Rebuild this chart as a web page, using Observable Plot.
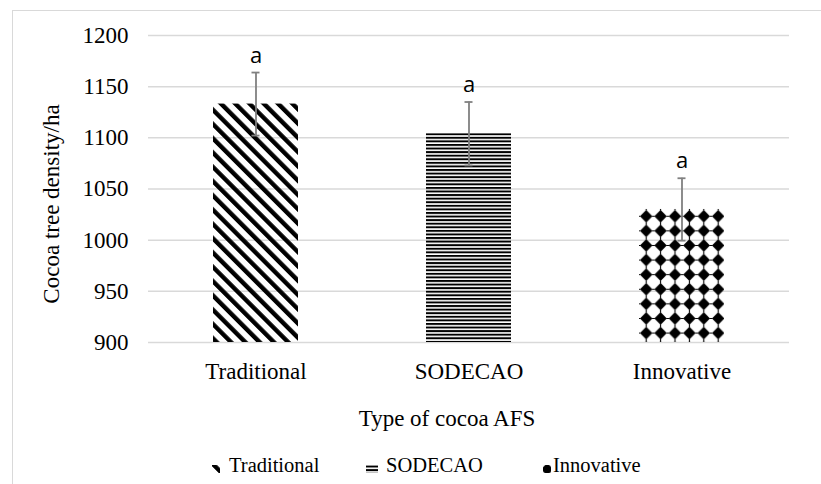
<!DOCTYPE html>
<html><head><meta charset="utf-8">
<script src="https://cdn.jsdelivr.net/npm/d3@7"></script>
<script src="https://cdn.jsdelivr.net/npm/@observablehq/plot@0.6"></script>
<style>
body{margin:0;background:#fff;width:821px;height:484px;overflow:hidden;position:relative;font-family:"Liberation Serif",serif;}
#frame{position:absolute;left:12px;top:10px;width:900px;height:600px;border-left:1.5px solid #d9d9d9;border-top:1.5px solid #d9d9d9;}
#chart{position:absolute;left:0;top:0;}
#legend{position:absolute;left:0;top:440px;}
svg text{font-family:"Liberation Serif",serif;}
</style></head><body>
<div id="frame"></div>
<svg width="0" height="0" style="position:absolute;left:0;top:0"><defs id="defs"></defs></svg>
<div id="chart"></div>
<div id="legend"></div>
<script>
const categories = ["Traditional", "SODECAO", "Innovative"];
const means = [1133, 1104, 1030];
const errors = [30.8, 31, 30.5];
const letters = ["a", "a", "a"];
const yTicks = [900, 950, 1000, 1050, 1100, 1150, 1200];
const patternIds = ["patTrad", "patSod", "patInn"];
const xTitle = "Type of cocoa AFS";
const yTitle = "Cocoa tree density/ha";

const SERIF = '"Liberation Serif", "Times New Roman", serif';

function patterns(s) {
  return `
  <pattern id="patTrad${s}" patternUnits="userSpaceOnUse" width="10.1" height="10.1" patternTransform="rotate(-45)">
    <rect width="4.4" height="10.1" fill="#000"/></pattern>
  <pattern id="patSod${s}" patternUnits="userSpaceOnUse" width="8" height="3.58">
    <rect width="8" height="1.95" fill="#000"/></pattern>
  <pattern id="patInn${s}" patternUnits="userSpaceOnUse" width="14.4" height="14.6">
    <path d="M7.2,1 L13.4,7.3 L7.2,13.6 L1,7.3Z" fill="#000"/>
    <path d="M7.2,0 V1.6 M7.2,13 V14.6 M0,7.3 H1.6 M12.8,7.3 H14.4" stroke="#000" stroke-width="1.1"/>
  </pattern>`;
}
document.getElementById("defs").innerHTML = patterns("") + patterns("L");

const data = categories.map((c, i) => ({
  cat: c, mean: means[i], err: errors[i], letter: letters[i], fill: `url(#${patternIds[i]})`
}));

const errStroke = "#808080";
const plot = Plot.plot({
  width: 821, height: 440,
  marginLeft: 148, marginRight: 32, marginTop: 35, marginBottom: 98,
  style: {fontFamily: SERIF, color: "#000", background: "transparent", overflow: "visible"},
  x: {domain: categories, paddingInner: 0.6, paddingOuter: 0.3, label: null},
  y: {domain: [900, 1200], label: null},
  color: {type: "identity"},
  marks: [
    Plot.gridY(yTicks, {stroke: "#d9d9d9", strokeOpacity: 1, strokeWidth: 1.5}),
    Plot.barY(data, {x: "cat", y1: 900, y2: "mean", fill: "fill"}),
    Plot.ruleX(data, {x: "cat", y1: d => d.mean - d.err, y2: d => d.mean + d.err, stroke: errStroke, strokeWidth: 1.8}),
    Plot.tickY(data, {x: "cat", y: d => d.mean + d.err, stroke: errStroke, strokeWidth: 1.8, insetLeft: 38.5, insetRight: 38.5}),
    Plot.tickY(data, {x: "cat", y: d => d.mean - d.err, stroke: errStroke, strokeWidth: 1.8, insetLeft: 38.5, insetRight: 38.5}),
    Plot.text(data, {x: "cat", y: d => d.mean + d.err, text: "letter", dy: -17, lineAnchor: "middle",
      fontFamily: '"Open Sans", sans-serif', fontSize: 22, fill: "#000"}),
    Plot.axisY(yTicks, {tickSize: 0, tickPadding: 20, fontSize: 23, fontFamily: SERIF, tickFormat: "d", label: null}),
    Plot.axisX({tickSize: 0, tickPadding: 20, fontSize: 23, fontFamily: SERIF, label: null})
  ]
});
document.getElementById("chart").appendChild(plot);

// open sans for the letters
d3.select(plot).selectAll('g[aria-label="text"] text').style("font-family", '"Open Sans", sans-serif');

const sx = plot.scale("x"), sy = plot.scale("y");
// axis titles
const svg = d3.select(plot);
svg.append("text").attr("transform", `translate(52,${(sy.apply(1200) + sy.apply(900)) / 2 + 15.5}) rotate(-90)`)
  .attr("text-anchor", "middle").attr("dy", "0.32em").attr("font-size", 23).attr("fill", "#000")
  .style("font-family", SERIF).text(yTitle);
svg.append("text").attr("x", (sx.range[0] + sx.range[1]) / 2 - 21.5).attr("y", 419)
  .attr("text-anchor", "middle").attr("dy", "0.32em").attr("font-size", 23).attr("fill", "#000")
  .style("font-family", SERIF).text(xTitle);

// align pattern tiles with the bar corners
data.forEach((d, i) => {
  if (i === 0) return;
  const p = document.getElementById(patternIds[i]);
  p.setAttribute("x", sx.apply(d.cat));
  p.setAttribute("y", sy.apply(d.mean));
});

// legend
const legend = d3.select("#legend").append("svg").attr("width", 821).attr("height", 44);
const swX = [212, 366, 543], swW = [8, 12, 8], txX = [229, 386, 553];
categories.forEach((c, i) => {
  const pid = patternIds[i] + "L";
  if (i > 0) {
    const p = document.getElementById(pid);
    p.setAttribute("x", swX[i] - 3); p.setAttribute("y", 25 - 3);
  }
  legend.append("rect").attr("x", swX[i]).attr("y", 25).attr("width", swW[i]).attr("height", 8)
    .attr("fill", `url(#${pid})`);
  legend.append("text").attr("x", txX[i]).attr("y", 32).attr("font-size", 20.5).attr("fill", "#000")
    .style("font-family", SERIF).text(c);
});
</script>
</body></html>
